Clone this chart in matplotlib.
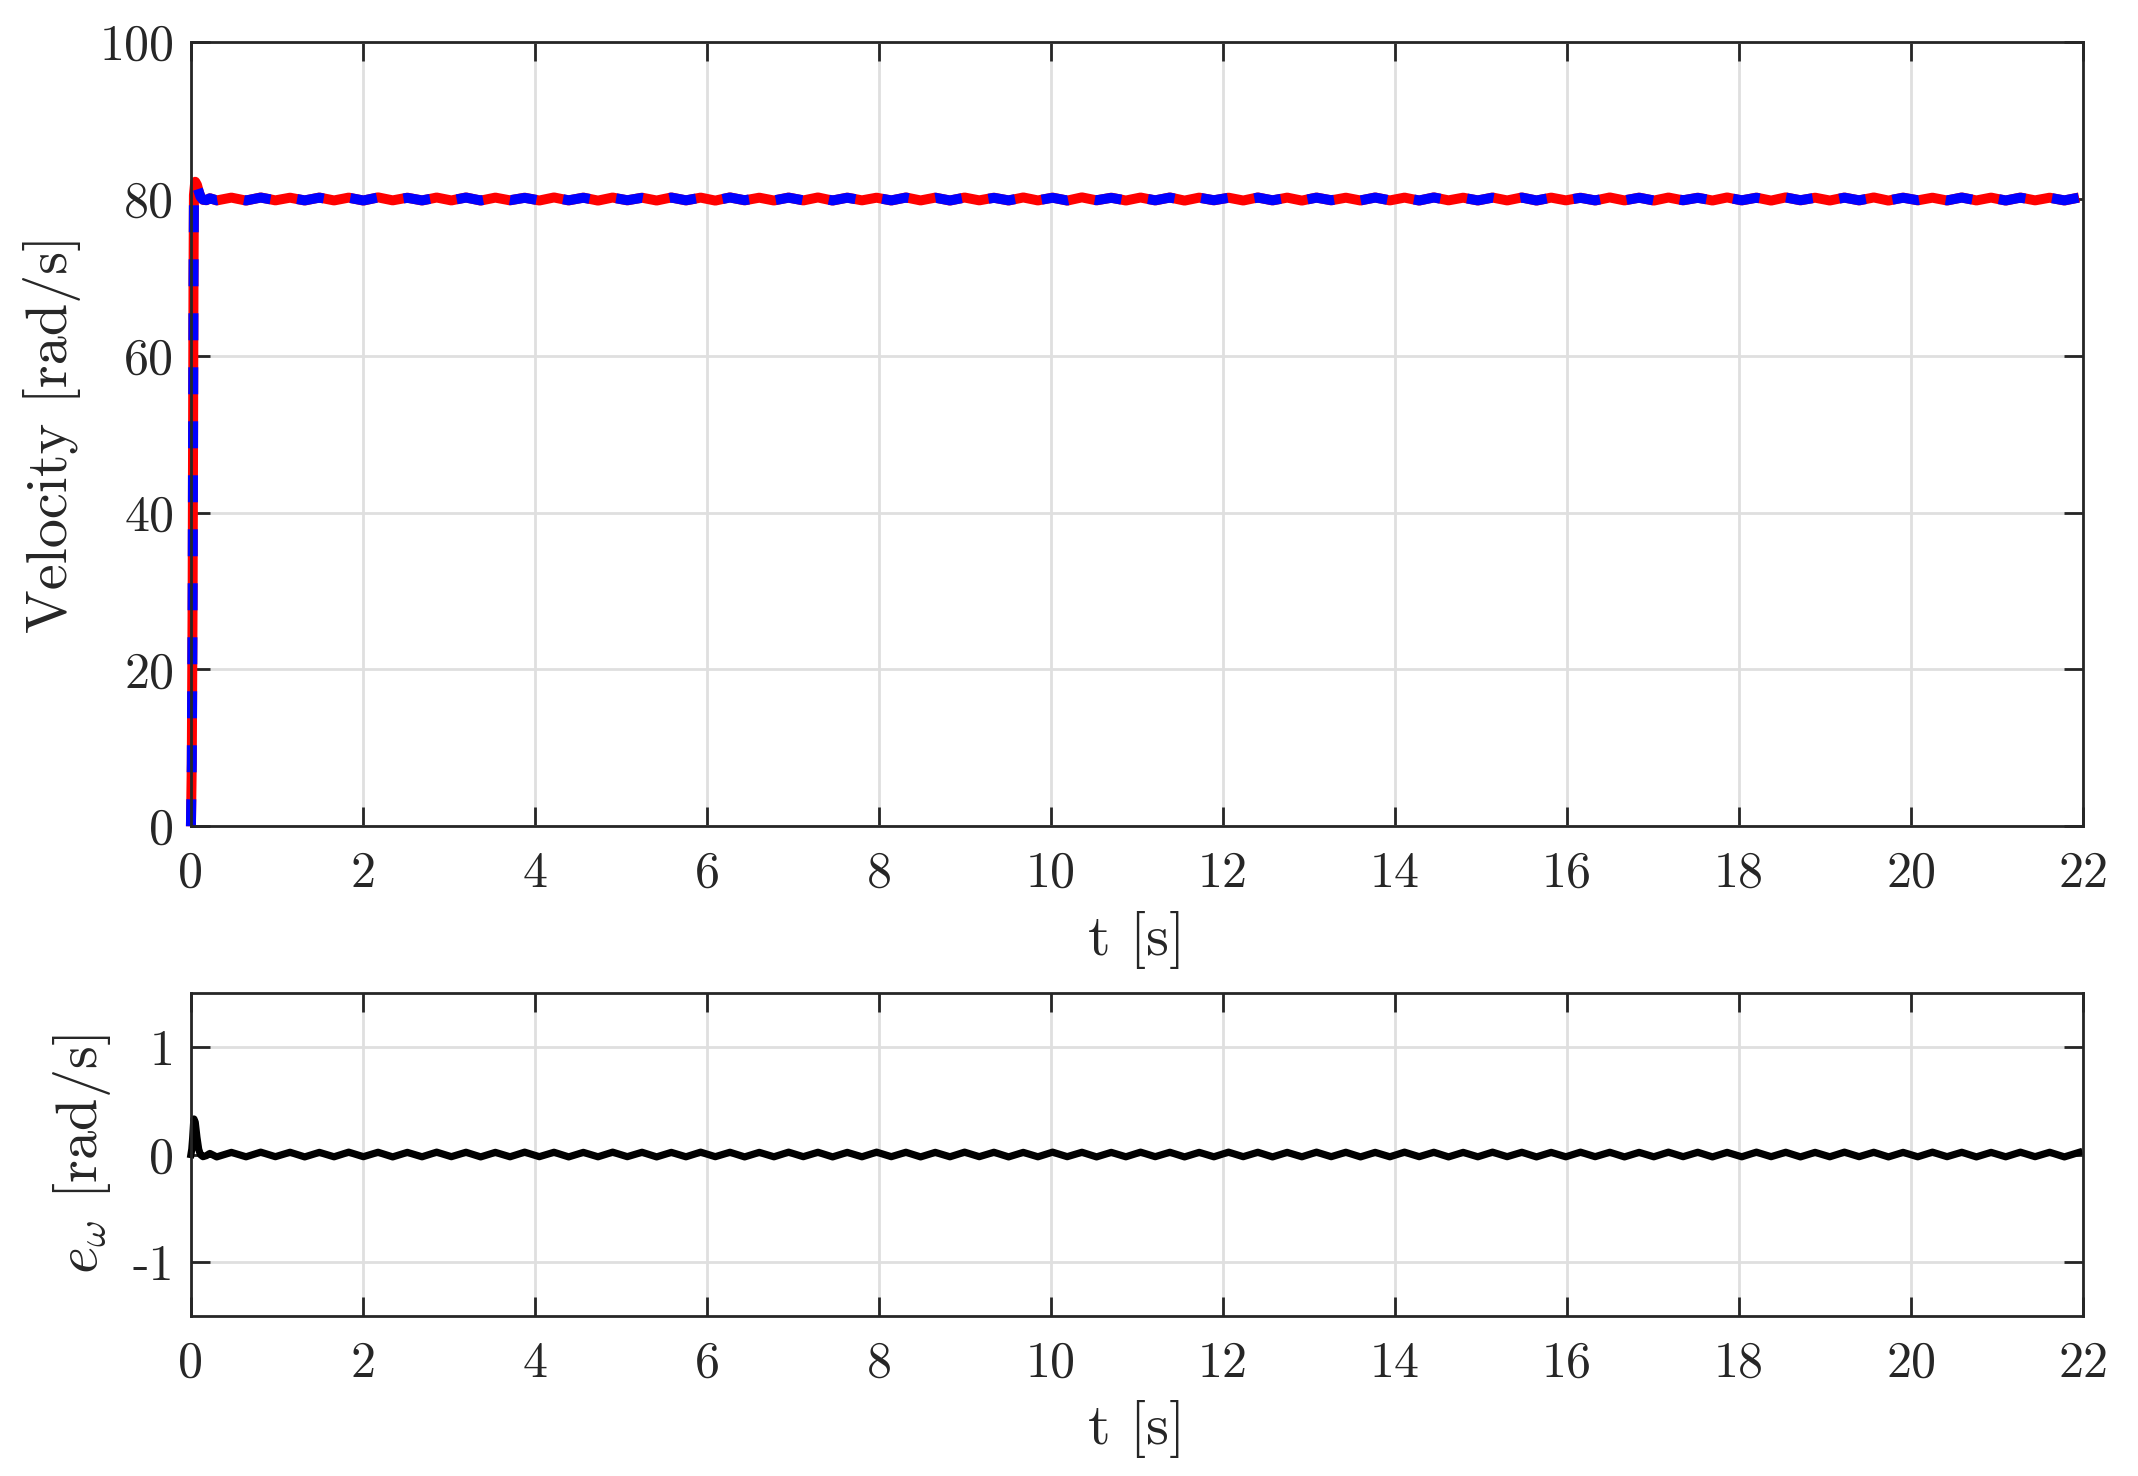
import matplotlib
matplotlib.use("Agg")
import matplotlib.pyplot as plt
import numpy as np

plt.rcParams['font.family'] = 'serif'
plt.rcParams['font.serif'] = ['cmr10']
plt.rcParams['mathtext.fontset'] = 'cm'
plt.rcParams['axes.unicode_minus'] = False
plt.rcParams['axes.formatter.use_mathtext'] = False

# start-up transient
t_start = [0.0, 0.01, 0.02, 0.025, 0.03, 0.035, 0.05, 0.07, 0.09, 0.11, 0.14, 0.18, 0.22]
w_start = [0.0, 8.0, 30.0, 50.0, 70.0, 80.5, 82.2, 81.8, 81.0, 80.3, 79.9, 79.85, 80.1]
e_start = [0.0, 0.05, 0.15, 0.22, 0.28, 0.33, 0.30, 0.16, 0.05, 0.0, -0.02, -0.01, 0.01]

# steady-state ripple, sampled at peaks and troughs (half period ~0.17 s)
ripple_t0 = 0.30
ripple_dt = 0.1705
w_ripple = [
    79.82, 80.18, 79.80, 80.20, 79.83, 80.17, 79.81, 80.19, 79.82, 80.18,
    79.80, 80.21, 79.83, 80.17, 79.81, 80.19, 79.82, 80.20, 79.80, 80.18,
    79.83, 80.17, 79.81, 80.20, 79.82, 80.18, 79.80, 80.19, 79.83, 80.17,
    79.81, 80.20, 79.82, 80.18, 79.80, 80.21, 79.83, 80.17, 79.81, 80.19,
    79.82, 80.20, 79.80, 80.18, 79.83, 80.17, 79.81, 80.20, 79.82, 80.18,
    79.80, 80.19, 79.83, 80.17, 79.81, 80.20, 79.82, 80.18, 79.80, 80.21,
    79.83, 80.17, 79.81, 80.19, 79.82, 80.20, 79.80, 80.18, 79.83, 80.17,
    79.81, 80.20, 79.82, 80.18, 79.80, 80.19, 79.83, 80.17, 79.81, 80.20,
    79.82, 80.18, 79.80, 80.21, 79.83, 80.17, 79.81, 80.19, 79.82, 80.20,
    79.80, 80.18, 79.83, 80.17, 79.81, 80.20, 79.82, 80.18, 79.80, 80.19,
    79.83, 80.17, 79.81, 80.20, 79.82, 80.18, 79.80, 80.21, 79.83, 80.17,
    79.81, 80.19, 79.82, 80.20, 79.80, 80.18, 79.83, 80.17, 79.81, 80.20,
    79.82, 80.18, 79.80, 80.19, 79.83, 80.17, 79.81, 80.20,
]
e_ripple = [
    -0.022, 0.020, -0.021, 0.022, -0.020, 0.021, -0.022, 0.020, -0.021, 0.022,
    -0.020, 0.021, -0.022, 0.020, -0.021, 0.022, -0.020, 0.021, -0.022, 0.020,
    -0.021, 0.022, -0.020, 0.021, -0.022, 0.020, -0.021, 0.022, -0.020, 0.021,
    -0.022, 0.020, -0.021, 0.022, -0.020, 0.021, -0.022, 0.020, -0.021, 0.022,
    -0.020, 0.021, -0.022, 0.020, -0.021, 0.022, -0.020, 0.021, -0.022, 0.020,
    -0.021, 0.022, -0.020, 0.021, -0.022, 0.020, -0.021, 0.022, -0.020, 0.021,
    -0.022, 0.020, -0.021, 0.022, -0.020, 0.021, -0.022, 0.020, -0.021, 0.022,
    -0.020, 0.021, -0.022, 0.020, -0.021, 0.022, -0.020, 0.021, -0.022, 0.020,
    -0.021, 0.022, -0.020, 0.021, -0.022, 0.020, -0.021, 0.022, -0.020, 0.021,
    -0.022, 0.020, -0.021, 0.022, -0.020, 0.021, -0.022, 0.020, -0.021, 0.022,
    -0.020, 0.021, -0.022, 0.020, -0.021, 0.022, -0.020, 0.021, -0.022, 0.020,
    -0.021, 0.022, -0.020, 0.021, -0.022, 0.020, -0.021, 0.022, -0.020, 0.021,
    -0.022, 0.020, -0.021, 0.022, -0.020, 0.021, -0.022, 0.020,
]

x_ticks = [0, 2, 4, 6, 8, 10, 12, 14, 16, 18, 20, 22]
y_ticks_top = [0, 20, 40, 60, 80, 100]
y_ticks_bot = [-1, 0, 1]

t = np.concatenate([t_start, ripple_t0 + ripple_dt * np.arange(len(w_ripple))])
w = np.concatenate([w_start, w_ripple])
e = np.concatenate([e_start, e_ripple])
w_ref = w - e

ink = '#262626'
fig = plt.figure(figsize=(10.69, 7.38), dpi=200)
ax1 = fig.add_axes([0.0893, 0.4402, 0.885, 0.5312])
ax2 = fig.add_axes([0.0893, 0.1084, 0.885, 0.2188])

for ax in (ax1, ax2):
    ax.grid(True, color='#dfdfdf', lw=1.0)
    ax.set_axisbelow(True)
    ax.tick_params(direction='in', length=6.8, width=1.0, colors=ink,
                   labelsize=18, top=True, right=True, pad=6)
    ax.tick_params(axis='x', pad=9)
    for s in ax.spines.values():
        s.set_linewidth(1.0)
        s.set_color(ink)
    ax.set_xlim(0, 22)
    ax.set_xticks(x_ticks)
    ax.set_xlabel('t [s]', fontsize=21, color=ink)

ax1.plot(t, w, color='red', lw=3.6, solid_capstyle='butt', clip_on=False)
ax1.plot(t, w_ref, color='blue', lw=3.6, ls=(0, (2.7, 2.7)),
         dash_capstyle='butt', clip_on=False)
ax1.set_ylim(0, 100)
ax1.set_yticks(y_ticks_top)
ax1.set_ylabel('Velocity [rad/s]', fontsize=21, color=ink)
ax1.xaxis.set_label_coords(0.5, -0.108)
ax1.yaxis.set_label_coords(-0.058, 0.5)

ax2.plot(t, e, color='black', lw=2.6, clip_on=False)
ax2.set_ylim(-1.5, 1.5)
ax2.set_yticks(y_ticks_bot)
ax2.set_ylabel(r'$e_\omega$ [rad/s]', fontsize=21, color=ink)
ax2.xaxis.set_label_coords(0.5, -0.26)
ax2.yaxis.set_label_coords(-0.041, 0.5)

fig.savefig('out.png', dpi=200)
